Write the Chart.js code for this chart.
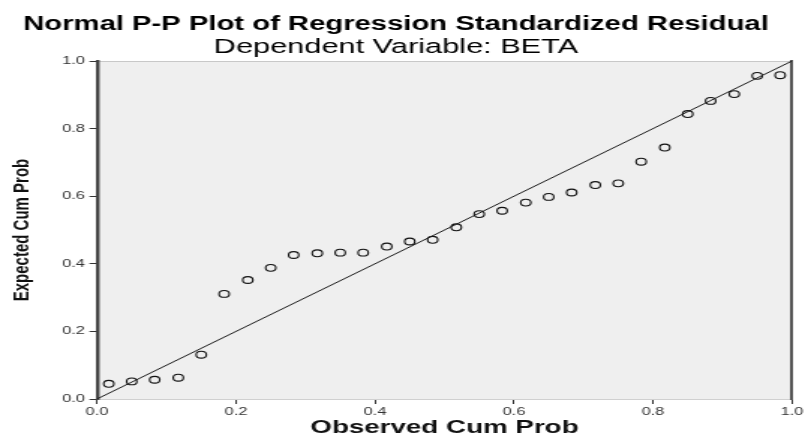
<!DOCTYPE html>
<html>
<head>
<meta charset="utf-8">
<script src="https://cdn.jsdelivr.net/npm/chart.js@4/dist/chart.umd.min.js"></script>
<style>
  html, body { margin: 0; padding: 0; background: #fff; overflow: hidden; }
  /* the source picture is an SPSS chart stretched sideways, so draw narrow and stretch */
  #wrap { width: 539px; height: 439px; transform: scaleX(1.499072); transform-origin: 0 0; }
</style>
</head>
<body>
<div id="wrap"><canvas id="chart"></canvas></div>
<script>
const observedCumProb = [
  0.017, 0.05, 0.083, 0.117, 0.15, 0.183, 0.217, 0.25, 0.283, 0.317,
  0.35, 0.383, 0.417, 0.45, 0.483, 0.517, 0.55, 0.583, 0.617, 0.65,
  0.683, 0.717, 0.75, 0.783, 0.817, 0.85, 0.883, 0.917, 0.95, 0.983,
]
const expectedCumProb = [
  0.045, 0.052, 0.057, 0.063, 0.131, 0.311, 0.352, 0.388, 0.426, 0.431,
  0.433, 0.433, 0.451, 0.466, 0.471, 0.508, 0.547, 0.557, 0.581, 0.598,
  0.611, 0.633, 0.638, 0.702, 0.744, 0.843, 0.882, 0.902, 0.956, 0.958,
]
const referenceLineX = [0, 1]
const referenceLineY = [0, 1]
const tickValues = [0, 0.2, 0.4, 0.6, 0.8, 1]

const FONT = "'Liberation Sans', Arial, sans-serif"

const plotBackground = {
  id: 'plotBackground',
  beforeDraw(chart) {
    const { ctx, chartArea: a } = chart
    ctx.save()
    ctx.fillStyle = '#efefef'
    ctx.fillRect(a.left, a.top, a.width, a.height)
    ctx.restore()
  },
}

const fixedTicks = (scale) => {
  scale.ticks = tickValues.map((v) => ({ value: v }))
}

const config = {
  type: 'scatter',
  data: {
    datasets: [
      {
        type: 'line',
        label: 'reference',
        data: referenceLineX.map((x, i) => ({ x, y: referenceLineY[i] })),
        borderColor: '#1a1a1a',
        borderWidth: 1,
        pointRadius: 0,
        fill: false,
      },
      {
        label: 'residuals',
        data: observedCumProb.map((x, i) => ({ x, y: expectedCumProb[i] })),
        pointStyle: 'circle',
        pointRadius: 3.4,
        pointBorderWidth: 1.1,
        pointBorderColor: '#111',
        pointBackgroundColor: 'rgba(0,0,0,0)',
        showLine: false,
      },
    ],
  },
  options: {
    responsive: true,
    maintainAspectRatio: false,
    animation: false,
    events: [],
    layout: { padding: { left: 0, right: 10.7, top: 0, bottom: 0 } },
    scales: {
      x: {
        type: 'linear',
        position: 'bottom',
        min: 0,
        max: 1,
        afterBuildTicks: fixedTicks,
        afterFit: (scale) => { scale.height = 40 },
        grid: { drawOnChartArea: false, drawTicks: true, tickLength: 5, tickColor: '#333' },
        border: { display: true, color: '#d0d0d0', width: 1 },
        ticks: {
          padding: 1,
          color: '#333',
          font: { family: FONT, size: 11 },
          maxRotation: 0,
          callback: (v) => Number(v).toFixed(1),
        },
        title: {
          display: true,
          text: 'Observed Cum Prob',
          color: '#111',
          font: { family: FONT, size: 18.5, weight: 'bold', lineHeight: 1 },
          padding: { top: 0, bottom: 2 },
        },
      },
      xTop: {
        type: 'linear',
        axis: 'x',
        position: 'top',
        min: 0,
        max: 1,
        afterFit: (scale) => { scale.height = 0 },
        grid: { drawOnChartArea: false, drawTicks: false },
        border: { display: true, color: '#c8c8c8', width: 1 },
        ticks: { display: false },
      },
      y: {
        type: 'linear',
        position: 'left',
        min: 0,
        max: 1,
        afterBuildTicks: fixedTicks,
        afterFit: (scale) => { scale.width = 64.7 },
        grid: { drawOnChartArea: false, drawTicks: true, tickLength: 5, tickColor: '#333' },
        border: { display: true, color: '#444', width: 2.4 },
        ticks: {
          padding: 3,
          color: '#333',
          font: { family: FONT, size: 11 },
          callback: (v) => Number(v).toFixed(1),
        },
        title: {
          display: true,
          text: 'Expected Cum Prob',
          color: '#111',
          font: { family: FONT, size: 15, weight: 'bold' },
          padding: { top: 6, bottom: 0 },
        },
      },
      yRight: {
        type: 'linear',
        axis: 'y',
        position: 'right',
        min: 0,
        max: 1,
        afterFit: (scale) => { scale.width = 0 },
        grid: { drawOnChartArea: false, drawTicks: false },
        border: { display: true, color: '#555', width: 2 },
        ticks: { display: false },
      },
    },
    plugins: {
      legend: { display: false },
      tooltip: { enabled: false },
      title: {
        display: true,
        text: 'Normal P-P Plot of Regression Standardized Residual',
        color: '#000',
        font: { family: FONT, size: 19.5, weight: 'bold' },
        padding: { top: 13, bottom: 0.5 },
      },
      subtitle: {
        display: true,
        text: 'Dependent Variable: BETA',
        color: '#000',
        font: { family: FONT, size: 20.5, weight: 'normal', lineHeight: 1 },
        padding: { top: 0, bottom: 3.6 },
      },
    },
  },
  plugins: [plotBackground],
}

new Chart(document.getElementById('chart'), config)
</script>
</body>
</html>
